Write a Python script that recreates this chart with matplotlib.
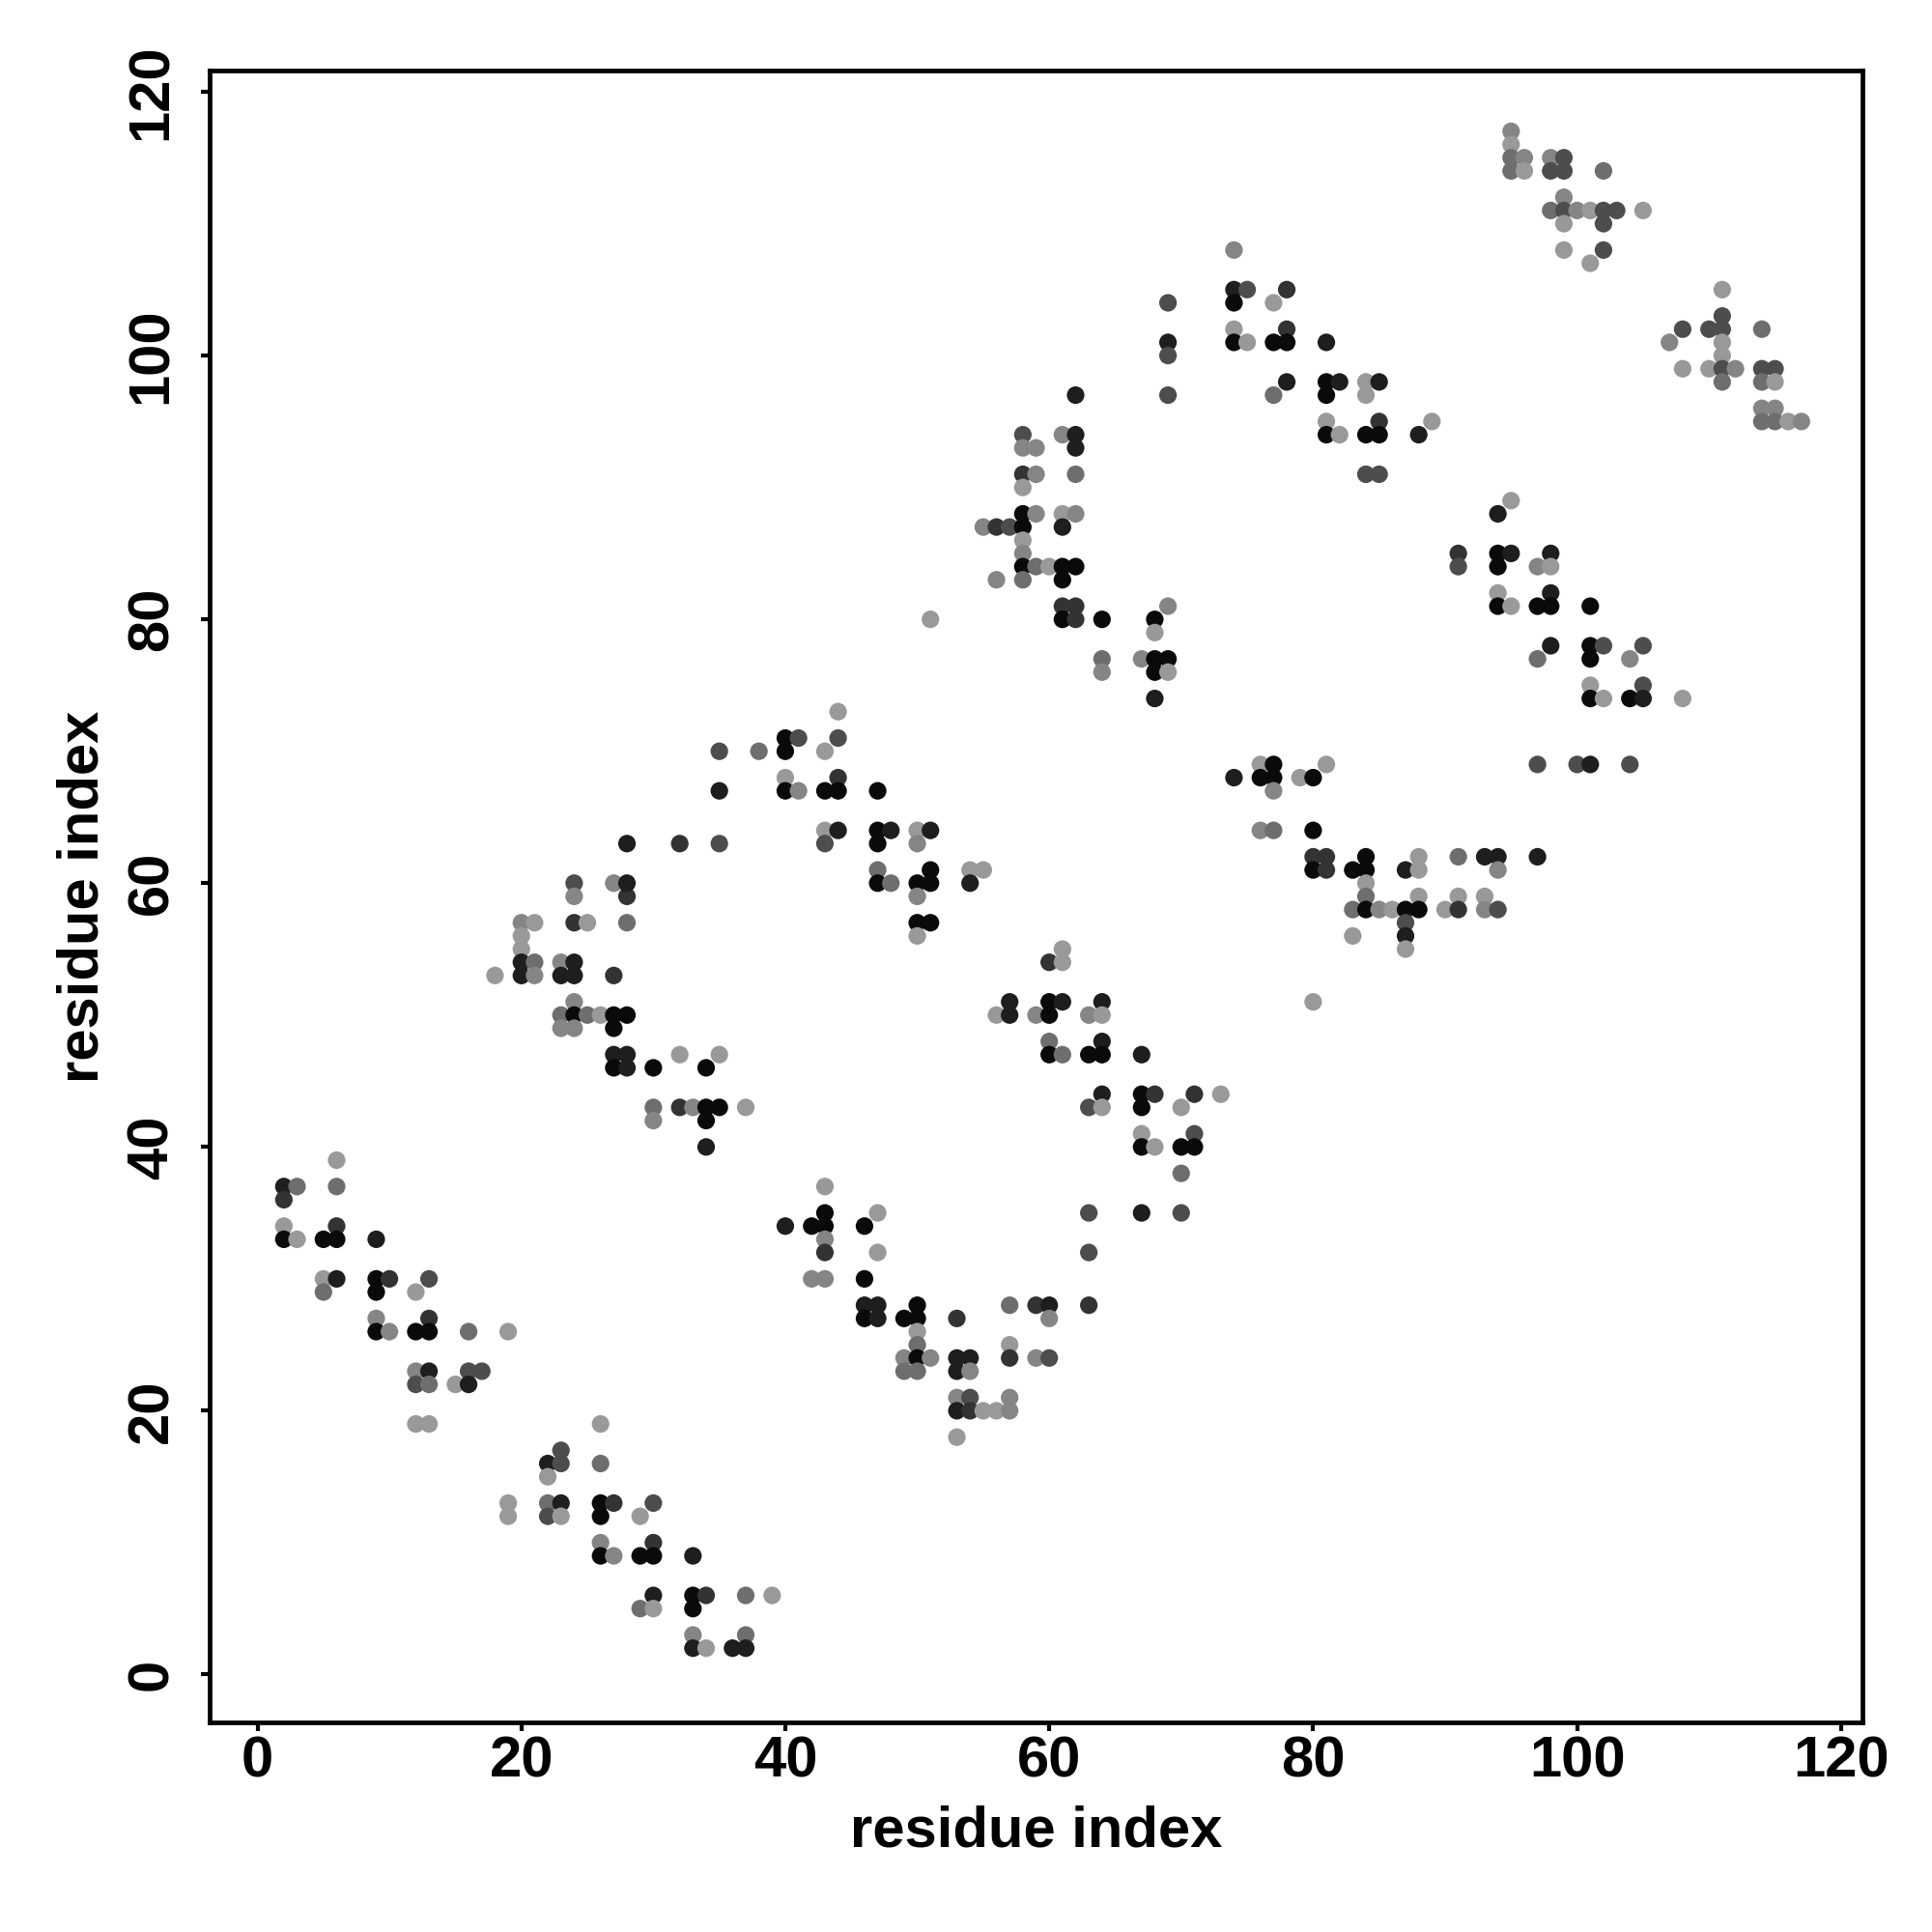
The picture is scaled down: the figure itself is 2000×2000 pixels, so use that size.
import numpy as np
import matplotlib
matplotlib.use("Agg")
import matplotlib.pyplot as plt

plt.rcParams["font.family"] = ["Liberation Sans", "DejaVu Sans"]
plt.rcParams["font.weight"] = "bold"

# contact map: (residue i, residue j, shade level 0=darkest .. 6=lightest)
block_a = [
    (6, 39, 6),
    (2, 37, 1), (3, 37, 4), (6, 37, 4),
    (2, 36, 2),
    (2, 34, 6), (6, 34, 2),
    (2, 33, 0), (3, 33, 6), (5, 33, 0), (6, 33, 0), (9, 33, 1),
    (5, 30, 6), (6, 30, 1), (9, 30, 0), (10, 30, 2), (13, 30, 3),
    (5, 29, 4), (9, 29, 0), (12, 29, 6),
    (9, 27, 5), (13, 27, 2),
    (9, 26, 0), (10, 26, 5), (12, 26, 0), (13, 26, 0), (16, 26, 4), (19, 26, 6),
    (12, 23, 5), (13, 23, 1), (16, 23, 3), (17, 23, 3),
    (12, 22, 3), (13, 22, 4), (15, 22, 6), (16, 22, 1),
    (12, 19, 6), (13, 19, 6),
]

block_b = [
    (26, 19, 6),
    (23, 17, 3),
    (22, 16, 1), (23, 16, 3), (26, 16, 4),
    (22, 15, 6),
    (19, 13, 6), (22, 13, 4), (23, 13, 1), (26, 13, 0), (27, 13, 2), (30, 13, 3),
    (19, 12, 6), (22, 12, 3), (23, 12, 6), (26, 12, 0), (29, 12, 6),
    (26, 10, 5), (30, 10, 2),
    (26, 9, 0), (27, 9, 5), (29, 9, 0), (30, 9, 0), (33, 9, 1),
    (30, 6, 1), (33, 6, 0), (34, 6, 2), (37, 6, 4), (39, 6, 6),
    (29, 5, 4), (30, 5, 6), (33, 5, 0),
    (33, 3, 5), (37, 3, 4),
    (33, 2, 1), (34, 2, 6), (36, 2, 1), (37, 2, 1),
]

block_c = [
    (24, 60, 3), (24, 59, 5), (28, 59, 2),
    (20, 57, 5), (21, 57, 6), (24, 57, 2), (25, 57, 6), (28, 57, 4),
    (20, 56, 6), (20, 55, 6),
    (20, 54, 1), (21, 54, 4), (23, 54, 5), (24, 54, 1),
    (18, 53, 6), (20, 53, 1), (21, 53, 5), (23, 53, 1), (24, 53, 1), (27, 53, 2),
    (24, 51, 5),
    (23, 50, 4), (24, 50, 0), (25, 50, 4), (26, 50, 6), (27, 50, 0), (28, 50, 0),
    (23, 49, 5), (24, 49, 5), (27, 49, 0),
    (27, 47, 1), (28, 47, 1), (32, 47, 6), (35, 47, 6),
    (27, 46, 0), (28, 46, 1), (30, 46, 0), (34, 46, 0),
    (30, 43, 4), (32, 43, 2), (33, 43, 5), (34, 43, 0), (35, 43, 0), (37, 43, 6),
    (30, 42, 5), (34, 42, 0),
    (34, 40, 1),
]

block_d = [
    (44, 73, 6),
    (40, 71, 0), (41, 71, 3), (44, 71, 3),
    (35, 70, 3), (38, 70, 4), (40, 70, 0), (43, 70, 6),
    (40, 68, 6), (44, 68, 2),
    (35, 67, 1), (40, 67, 0), (41, 67, 5), (43, 67, 0), (44, 67, 0), (47, 67, 0),
    (43, 64, 6), (44, 64, 1), (47, 64, 0), (48, 64, 1), (50, 64, 6), (51, 64, 1),
    (28, 63, 1), (32, 63, 2), (35, 63, 3), (43, 63, 3), (47, 63, 0), (50, 63, 5),
    (47, 61, 4), (51, 61, 0), (54, 61, 6), (55, 61, 6),
    (27, 60, 5), (28, 60, 1), (47, 60, 0), (48, 60, 4), (50, 60, 0), (51, 60, 0),
    (54, 60, 1),
    (50, 59, 5),
    (50, 57, 0), (51, 57, 0), (50, 56, 6),
    (51, 80, 6),
]

block_e = [
    (43, 37, 6),
    (43, 35, 0), (47, 35, 6),
    (40, 34, 1), (42, 34, 0), (43, 34, 0), (46, 34, 0),
    (43, 33, 5),
    (43, 32, 2), (47, 32, 6),
    (42, 30, 5), (43, 30, 5), (46, 30, 0),
    (46, 28, 1), (47, 28, 1), (50, 28, 0), (57, 28, 4), (59, 28, 2), (60, 28, 1),
    (46, 27, 0), (47, 27, 1), (49, 27, 0), (50, 27, 0), (53, 27, 2), (60, 27, 5),
    (50, 26, 6),
    (50, 25, 4), (57, 25, 6),
    (49, 24, 5), (50, 24, 0), (51, 24, 5), (53, 24, 1), (54, 24, 1), (57, 24, 2),
    (59, 24, 5), (60, 24, 3),
    (49, 23, 4), (50, 23, 4), (53, 23, 1), (54, 23, 5),
    (53, 21, 5), (54, 21, 3), (57, 21, 5),
    (53, 20, 1), (54, 20, 2), (55, 20, 6), (56, 20, 6), (57, 20, 5),
    (53, 18, 6),
]

block_f = [
    (61, 55, 6),
    (60, 54, 2), (61, 54, 6),
    (57, 51, 1), (60, 51, 0), (61, 51, 1), (64, 51, 1),
    (56, 50, 6), (57, 50, 1), (59, 50, 5), (60, 50, 0), (63, 50, 5), (64, 50, 6),
    (60, 48, 4), (64, 48, 1),
    (60, 47, 0), (61, 47, 4), (63, 47, 0), (64, 47, 0), (67, 47, 1),
    (64, 44, 1), (67, 44, 0), (68, 44, 2), (71, 44, 2), (73, 44, 6),
    (63, 43, 3), (64, 43, 6), (67, 43, 0), (70, 43, 6),
    (67, 41, 6), (71, 41, 3),
    (67, 40, 0), (68, 40, 6), (70, 40, 0), (71, 40, 0),
    (70, 38, 4),
    (63, 35, 3), (67, 35, 1), (70, 35, 3),
    (63, 32, 3), (63, 28, 2),
]

block_g = [
    (69, 104, 3), (69, 101, 1), (69, 100, 3),
    (62, 97, 1), (69, 97, 3),
    (58, 94, 3), (61, 94, 5), (62, 94, 1),
    (58, 93, 5), (59, 93, 5), (62, 93, 1),
    (58, 91, 2), (59, 91, 5), (62, 91, 4),
    (58, 90, 6),
    (58, 88, 0), (59, 88, 5), (61, 88, 6), (62, 88, 5),
    (55, 87, 5), (56, 87, 2), (57, 87, 3), (58, 87, 0), (61, 87, 1),
    (58, 86, 6), (58, 85, 5),
    (58, 84, 0), (59, 84, 4), (60, 84, 6), (61, 84, 0), (62, 84, 0),
    (56, 83, 5), (58, 83, 4), (61, 83, 0),
    (61, 81, 2), (62, 81, 2), (69, 81, 5),
    (61, 80, 0), (62, 80, 2), (64, 80, 0), (68, 80, 0),
    (68, 79, 6),
    (64, 77, 4), (67, 77, 5), (68, 77, 0), (69, 77, 0),
    (64, 76, 5), (68, 76, 0), (69, 76, 6),
    (68, 74, 1),
]

block_h = [
    (74, 108, 5),
    (74, 105, 1), (75, 105, 3), (78, 105, 2),
    (74, 104, 0), (77, 104, 6),
    (74, 102, 6), (78, 102, 2),
    (74, 101, 0), (75, 101, 6), (77, 101, 0), (78, 101, 0), (81, 101, 1),
    (78, 98, 1), (81, 98, 0), (82, 98, 1), (84, 98, 6), (85, 98, 1),
    (77, 97, 4), (81, 97, 0), (84, 97, 6),
    (81, 95, 6), (85, 95, 2), (89, 95, 6),
    (81, 94, 0), (82, 94, 6), (84, 94, 0), (85, 94, 0), (88, 94, 1),
    (84, 91, 3), (85, 91, 3),
]

block_i = [
    (76, 69, 6), (77, 69, 0), (81, 69, 6), (97, 69, 3), (100, 69, 3), (101, 69, 1),
    (74, 68, 1), (76, 68, 0), (77, 68, 0), (79, 68, 6), (80, 68, 0),
    (77, 67, 5),
    (76, 64, 5), (77, 64, 4), (80, 64, 0),
    (80, 62, 2), (81, 62, 2), (84, 62, 0), (88, 62, 6), (91, 62, 4), (93, 62, 1),
    (94, 62, 1), (97, 62, 1),
    (80, 61, 0), (81, 61, 2), (83, 61, 0), (84, 61, 0), (87, 61, 1), (88, 61, 6),
    (94, 61, 5),
    (84, 60, 6),
    (84, 59, 4), (88, 59, 6), (91, 59, 6), (93, 59, 6),
    (83, 58, 4), (84, 58, 0), (85, 58, 5), (86, 58, 6), (87, 58, 0), (88, 58, 0),
    (90, 58, 6), (91, 58, 2), (93, 58, 5), (94, 58, 3),
    (87, 57, 3),
    (83, 56, 6), (87, 56, 1),
    (87, 55, 6),
    (80, 51, 6),
]

block_j = [
    (95, 89, 6),
    (94, 88, 1),
    (91, 85, 2), (94, 85, 0), (95, 85, 1), (98, 85, 1),
    (91, 84, 3), (94, 84, 0), (97, 84, 5), (98, 84, 6),
    (94, 82, 6), (98, 82, 1),
    (94, 81, 0), (95, 81, 6), (97, 81, 0), (98, 81, 0), (101, 81, 0),
    (98, 78, 1), (101, 78, 0), (102, 78, 3), (105, 78, 3),
    (97, 77, 4), (101, 77, 0), (104, 77, 5),
    (101, 75, 6), (105, 75, 3),
    (101, 74, 0), (102, 74, 6), (104, 74, 0), (105, 74, 1), (108, 74, 6),
    (104, 69, 3),
]

block_k = [
    (95, 117, 5), (95, 116, 6), (95, 115, 4), (96, 115, 5), (95, 114, 4), (96, 114, 6),
    (98, 115, 5), (99, 115, 3), (98, 114, 3), (99, 114, 3), (102, 114, 4),
    (99, 112, 5),
    (98, 111, 4), (99, 111, 3), (100, 111, 5), (101, 111, 6), (102, 111, 3),
    (103, 111, 3), (105, 111, 6),
    (99, 110, 6), (102, 110, 3),
    (99, 108, 6), (102, 108, 3),
    (101, 107, 6),
    (111, 105, 6), (111, 103, 3),
    (108, 102, 3), (110, 102, 3), (111, 102, 3), (114, 102, 4),
    (107, 101, 5), (111, 101, 6), (111, 100, 6),
    (108, 99, 6), (110, 99, 6), (111, 99, 3), (112, 99, 5), (114, 99, 3), (115, 99, 3),
    (111, 98, 4), (114, 98, 4), (115, 98, 6),
    (114, 96, 5), (115, 96, 5),
    (114, 95, 4), (115, 95, 4), (116, 95, 6), (117, 95, 5),
]

gray_levels = ["#0a0a0a", "#1e1e1e", "#333333", "#4d4d4d", "#6e6e6e", "#858585", "#999999"]
axis_ticks = [0, 20, 40, 60, 80, 100, 120]

contacts = (block_a + block_b + block_c + block_d + block_e + block_f
            + block_g + block_h + block_i + block_j + block_k)
res_i = np.array([c[0] for c in contacts])
res_j = np.array([c[1] for c in contacts])
shade = [gray_levels[c[2]] for c in contacts]

fig = plt.figure(figsize=(10, 10), dpi=200)
ax = fig.add_axes([0.1084, 0.1084, 0.8557, 0.8553])

ax.scatter(res_i, res_j, c=shade, s=43, linewidths=0, zorder=3)

ax.set_xlim(-3.64, 121.64)
ax.set_ylim(-3.64, 121.64)
ax.set_xticks(axis_ticks)
ax.set_yticks(axis_ticks)

for sp in ax.spines.values():
    sp.set_linewidth(1.7)

ax.tick_params(axis="both", direction="out", length=3.4, width=1.5,
               labelsize=21.5)
ax.tick_params(axis="x", pad=1.5)
ax.tick_params(axis="y", pad=8, labelrotation=90)
plt.setp(ax.get_yticklabels(), va="center")

ax.set_xlabel("residue index", fontsize=21.5, fontweight="bold", labelpad=6)
ax.set_ylabel("residue index", fontsize=21.5, fontweight="bold", labelpad=6)

fig.savefig("out.png", dpi=200)
